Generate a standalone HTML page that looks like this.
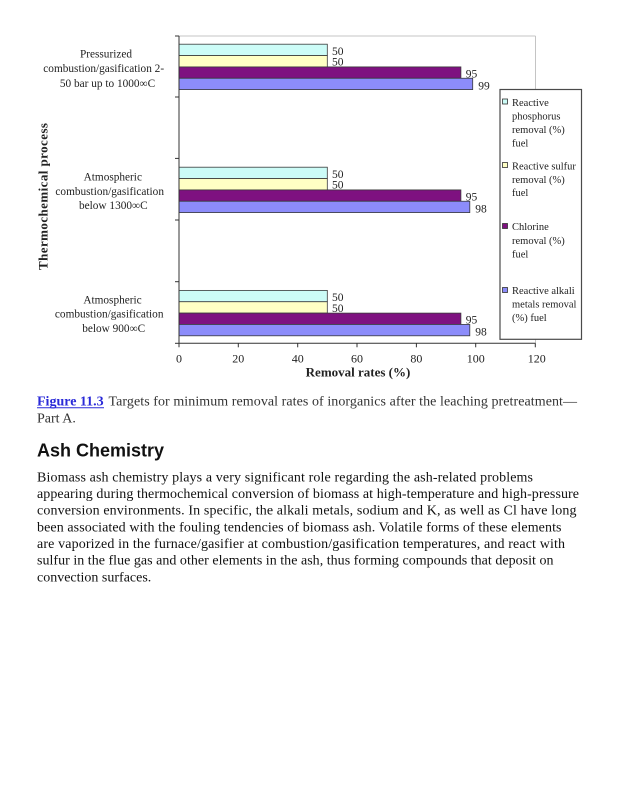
<!DOCTYPE html>
<html>
<head>
<meta charset="utf-8">
<style>
html,body{margin:0;padding:0;background:#fff;}
svg{display:block;}
.s{font-family:"Liberation Serif","Times New Roman",serif;}
</style>
</head>
<body>
<svg width="617" height="800" viewBox="0 0 617 800" xmlns="http://www.w3.org/2000/svg">
<rect x="0" y="0" width="617" height="800" fill="#fff"/>

<!-- plot area border (top/right) -->
<line x1="179" y1="36" x2="535.5" y2="36" stroke="#c4c4c4" stroke-width="1"/>
<line x1="535.5" y1="36" x2="535.5" y2="343.3" stroke="#c4c4c4" stroke-width="1"/>

<!-- bars group 1 -->
<g stroke="#3a3a3a" stroke-width="0.8">
<rect x="179" y="44.2" width="148.3" height="11.35" fill="#ccfcf7"/>
<rect x="179" y="55.55" width="148.3" height="11.35" fill="#ffffc4"/>
<rect x="179" y="66.9" width="281.9" height="11.35" fill="#7e1180"/>
<rect x="179" y="78.25" width="293.7" height="11.35" fill="#8c8cfa"/>
<!-- group 2 -->
<rect x="179" y="167.2" width="148.3" height="11.35" fill="#ccfcf7"/>
<rect x="179" y="178.55" width="148.3" height="11.35" fill="#ffffc4"/>
<rect x="179" y="189.9" width="281.9" height="11.35" fill="#7e1180"/>
<rect x="179" y="201.25" width="290.8" height="11.35" fill="#8c8cfa"/>
<!-- group 3 -->
<rect x="179" y="290.4" width="148.3" height="11.35" fill="#ccfcf7"/>
<rect x="179" y="301.75" width="148.3" height="11.35" fill="#ffffc4"/>
<rect x="179" y="313.1" width="281.9" height="11.35" fill="#7e1180"/>
<rect x="179" y="324.45" width="290.8" height="11.35" fill="#8c8cfa"/>
</g>

<!-- value labels -->
<g class="s" font-size="11.5" fill="#222">
<text x="332" y="55">50</text>
<text x="332" y="65.6">50</text>
<text x="465.7" y="77.3">95</text>
<text x="478.3" y="89.3">99</text>

<text x="332" y="178">50</text>
<text x="332" y="188.6">50</text>
<text x="465.7" y="200.3">95</text>
<text x="475.3" y="212.3">98</text>

<text x="332" y="301.2">50</text>
<text x="332" y="311.8">50</text>
<text x="465.7" y="323.5">95</text>
<text x="475.3" y="335.5">98</text>
</g>

<!-- axes -->
<g stroke="#333" stroke-width="1">
<line x1="179" y1="36" x2="179" y2="343.3"/>
<line x1="179" y1="343.3" x2="535.5" y2="343.3"/>
<!-- y ticks -->
<line x1="175" y1="36" x2="179" y2="36"/>
<line x1="175" y1="97" x2="179" y2="97"/>
<line x1="175" y1="158.4" x2="179" y2="158.4"/>
<line x1="175" y1="220" x2="179" y2="220"/>
<line x1="175" y1="281.7" x2="179" y2="281.7"/>
<line x1="175" y1="343.3" x2="179" y2="343.3"/>
<!-- x ticks -->
<line x1="179" y1="343.3" x2="179" y2="347.3"/>
<line x1="238.3" y1="343.3" x2="238.3" y2="347.3"/>
<line x1="297.7" y1="343.3" x2="297.7" y2="347.3"/>
<line x1="357" y1="343.3" x2="357" y2="347.3"/>
<line x1="416.4" y1="343.3" x2="416.4" y2="347.3"/>
<line x1="475.7" y1="343.3" x2="475.7" y2="347.3"/>
<line x1="535.3" y1="343.3" x2="535.3" y2="347.3"/>
</g>

<!-- x tick labels -->
<g class="s" font-size="12" fill="#222" text-anchor="middle">
<text x="179" y="362.7">0</text>
<text x="238.3" y="362.7">20</text>
<text x="297.7" y="362.7">40</text>
<text x="357" y="362.7">60</text>
<text x="416.4" y="362.7">80</text>
<text x="475.7" y="362.7">100</text>
<text x="536.7" y="362.7">120</text>
</g>
<text class="s" x="358" y="376.7" font-size="13" font-weight="bold" fill="#222" text-anchor="middle">Removal rates (%)</text>

<!-- y axis title -->
<text class="s" transform="translate(47.3,196.5) rotate(-90)" font-size="13" font-weight="bold" fill="#222" text-anchor="middle" textLength="147" lengthAdjust="spacing">Thermochemical  process</text>

<!-- category labels -->
<g class="s" font-size="11.3" fill="#222" text-anchor="middle">
<text x="106" y="57.3">Pressurized</text>
<text x="103.7" y="72">combustion/gasification 2-</text>
<text x="107.5" y="86.8">50 bar up to 1000∞C</text>

<text x="112.8" y="180.7">Atmospheric</text>
<text x="109.7" y="194.9">combustion/gasification</text>
<text x="113.3" y="209.1">below 1300∞C</text>

<text x="112.5" y="303.3">Atmospheric</text>
<text x="109.2" y="317.6">combustion/gasification</text>
<text x="113.7" y="331.9">below 900∞C</text>
</g>

<!-- legend -->
<rect x="500" y="89.5" width="81.5" height="249.8" fill="#fff" stroke="#4a4a4a" stroke-width="1.2"/>
<g stroke="#333" stroke-width="0.8">
<rect x="502.5" y="99" width="5" height="5" fill="#ccfcf7"/>
<rect x="502.5" y="162.5" width="5" height="5" fill="#ffffc4"/>
<rect x="502.5" y="223.5" width="5" height="5" fill="#7e1180"/>
<rect x="502.5" y="287.5" width="5" height="5" fill="#8c8cfa"/>
</g>
<g class="s" font-size="10.5" fill="#222">
<text x="512" y="106">Reactive</text>
<text x="512" y="119.5">phosphorus</text>
<text x="512" y="133">removal (%)</text>
<text x="512" y="146.6">fuel</text>

<text x="512" y="169.3">Reactive sulfur</text>
<text x="512" y="182.8">removal (%)</text>
<text x="512" y="196.2">fuel</text>

<text x="512" y="230.2">Chlorine</text>
<text x="512" y="243.8">removal (%)</text>
<text x="512" y="257.3">fuel</text>

<text x="512" y="294">Reactive alkali</text>
<text x="512" y="307.4">metals removal</text>
<text x="512" y="320.8">(%) fuel</text>
</g>

<!-- caption -->
<g class="s" font-size="14">
<text x="37" y="405.7" fill="#2a2ad8" font-weight="bold">Figure 11.3</text>
<line x1="37" y1="407.8" x2="104" y2="407.8" stroke="#2a2ad8" stroke-width="1"/>
<text x="108.5" y="405.7" fill="#333" textLength="468.5" lengthAdjust="spacing">Targets for minimum removal rates of inorganics after the leaching pretreatment—</text>
<text x="37" y="422.3" fill="#333">Part A.</text>
</g>

<!-- heading -->
<text x="37" y="456.7" font-family="'Liberation Sans', Arial, sans-serif" font-size="18" font-weight="bold" fill="#111">Ash Chemistry</text>

<!-- paragraph -->
<g class="s" font-size="14" fill="#111">
<text x="37" y="481.3" textLength="496" lengthAdjust="spacing">Biomass ash chemistry plays a very significant role regarding the ash-related problems</text>
<text x="37" y="498" textLength="542" lengthAdjust="spacing">appearing during thermochemical conversion of biomass at high-temperature and high-pressure</text>
<text x="37" y="514.7" textLength="539.5" lengthAdjust="spacing">conversion environments. In specific, the alkali metals, sodium and K, as well as Cl have long</text>
<text x="37" y="531.3" textLength="524.5" lengthAdjust="spacing">been associated with the fouling tendencies of biomass ash. Volatile forms of these elements</text>
<text x="37" y="548" textLength="528" lengthAdjust="spacing">are vaporized in the furnace/gasifier at combustion/gasification temperatures, and react with</text>
<text x="37" y="564.7" textLength="516.5" lengthAdjust="spacing">sulfur in the flue gas and other elements in the ash, thus forming compounds that deposit on</text>
<text x="37" y="581.3">convection surfaces.</text>
</g>
</svg>
</body>
</html>
